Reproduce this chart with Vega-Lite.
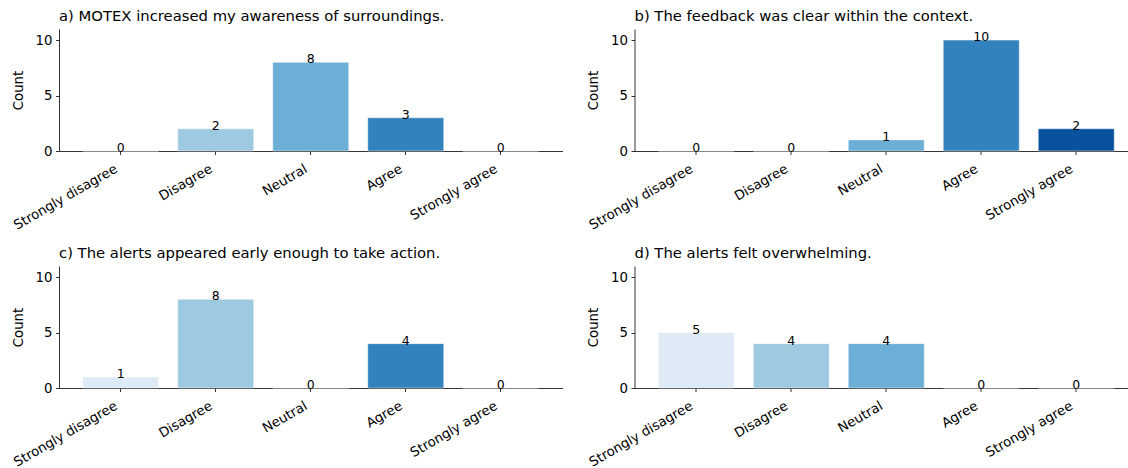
{
  "$schema": "https://vega.github.io/schema/vega-lite/v6.json",
  "background": "white",
  "padding": {"left": 11, "top": 9, "right": 0, "bottom": 0},
  "bounds": "flush",
  "columns": 2,
  "spacing": {"row": 115, "column": 71.5},
  "datasets": {
    "likert": [
      {"panel": "a", "response": "Strongly disagree", "count": 0},
      {"panel": "a", "response": "Disagree", "count": 2},
      {"panel": "a", "response": "Neutral", "count": 8},
      {"panel": "a", "response": "Agree", "count": 3},
      {"panel": "a", "response": "Strongly agree", "count": 0},
      {"panel": "b", "response": "Strongly disagree", "count": 0},
      {"panel": "b", "response": "Disagree", "count": 0},
      {"panel": "b", "response": "Neutral", "count": 1},
      {"panel": "b", "response": "Agree", "count": 10},
      {"panel": "b", "response": "Strongly agree", "count": 2},
      {"panel": "c", "response": "Strongly disagree", "count": 1},
      {"panel": "c", "response": "Disagree", "count": 8},
      {"panel": "c", "response": "Neutral", "count": 0},
      {"panel": "c", "response": "Agree", "count": 4},
      {"panel": "c", "response": "Strongly agree", "count": 0},
      {"panel": "d", "response": "Strongly disagree", "count": 5},
      {"panel": "d", "response": "Disagree", "count": 4},
      {"panel": "d", "response": "Neutral", "count": 4},
      {"panel": "d", "response": "Agree", "count": 0},
      {"panel": "d", "response": "Strongly agree", "count": 0}
    ]
  },
  "data": {"name": "likert"},
  "config": {
    "font": "DejaVu Sans",
    "view": {"stroke": null},
    "axis": {
      "domainColor": "#000",
      "domainWidth": 0.8,
      "tickColor": "#000",
      "tickWidth": 0.8,
      "tickSize": 3.5,
      "grid": false,
      "labelFont": "DejaVu Sans",
      "labelFontSize": 13.3,
      "labelColor": "#000",
      "titleFont": "DejaVu Sans",
      "titleFontSize": 13.3,
      "titleFontWeight": "normal",
      "titleColor": "#000",
      "labelPadding": 3.5
    },
    "axisX": {"labelPadding": 7, "labelOffset": -8},
    "title": {
      "anchor": "start",
      "frame": "group",
      "font": "DejaVu Sans",
      "fontSize": 14.8,
      "fontWeight": "normal",
      "color": "#000",
      "baseline": "alphabetic",
      "offset": 5
    }
  },
  "concat": [
    {
      "title": "a) MOTEX increased my awareness of surroundings.",
      "transform": [{"filter": "datum.panel === 'a'"}],
      "width": 503.5,
      "height": 122,
      "encoding": {
        "x": {"field": "response", "type": "nominal", "sort": null,
              "scale": {"domain": ["Strongly disagree", "Disagree", "Neutral", "Agree", "Strongly agree"], "paddingInner": 0.2, "paddingOuter": 0.25},
              "axis": {"title": null, "labelAngle": -30, "labelAlign": "right", "labelBaseline": "top"}},
        "y": {"field": "count", "type": "quantitative",
              "scale": {"domain": [0, 11], "nice": false},
              "axis": {"title": "Count", "values": [0, 5, 10], "titlePadding": 10}}
      },
      "layer": [
        {"mark": {"type": "bar", "stroke": "white", "strokeWidth": 0.8, "strokeOpacity": 0.6},
         "encoding": {"color": {"field": "response", "type": "nominal", "legend": null,
           "scale": {"domain": ["Strongly disagree", "Disagree", "Neutral", "Agree", "Strongly agree"],
                     "range": ["#deebf7", "#9ecae1", "#6baed6", "#3182bd", "#08519c"]}}}},
        {"mark": {"type": "text", "baseline": "alphabetic", "dy": 1, "fontSize": 12.5, "color": "#000"},
         "encoding": {"text": {"field": "count", "type": "quantitative"}}}
      ]
    },
    {
      "title": "b) The feedback was clear within the context.",
      "transform": [{"filter": "datum.panel === 'b'"}],
      "width": 503.5,
      "height": 122,
      "encoding": {
        "x": {"field": "response", "type": "nominal", "sort": null,
              "scale": {"domain": ["Strongly disagree", "Disagree", "Neutral", "Agree", "Strongly agree"], "paddingInner": 0.2, "paddingOuter": 0.25},
              "axis": {"title": null, "labelAngle": -30, "labelAlign": "right", "labelBaseline": "top"}},
        "y": {"field": "count", "type": "quantitative",
              "scale": {"domain": [0, 11], "nice": false},
              "axis": {"title": "Count", "values": [0, 5, 10], "titlePadding": 10}}
      },
      "layer": [
        {"mark": {"type": "bar", "stroke": "white", "strokeWidth": 0.8, "strokeOpacity": 0.6},
         "encoding": {"color": {"field": "response", "type": "nominal", "legend": null,
           "scale": {"domain": ["Strongly disagree", "Disagree", "Neutral", "Agree", "Strongly agree"],
                     "range": ["#deebf7", "#9ecae1", "#6baed6", "#3182bd", "#08519c"]}}}},
        {"mark": {"type": "text", "baseline": "alphabetic", "dy": 1, "fontSize": 12.5, "color": "#000"},
         "encoding": {"text": {"field": "count", "type": "quantitative"}}}
      ]
    },
    {
      "title": "c) The alerts appeared early enough to take action.",
      "transform": [{"filter": "datum.panel === 'c'"}],
      "width": 503.5,
      "height": 122,
      "encoding": {
        "x": {"field": "response", "type": "nominal", "sort": null,
              "scale": {"domain": ["Strongly disagree", "Disagree", "Neutral", "Agree", "Strongly agree"], "paddingInner": 0.2, "paddingOuter": 0.25},
              "axis": {"title": null, "labelAngle": -30, "labelAlign": "right", "labelBaseline": "top"}},
        "y": {"field": "count", "type": "quantitative",
              "scale": {"domain": [0, 11], "nice": false},
              "axis": {"title": "Count", "values": [0, 5, 10], "titlePadding": 10}}
      },
      "layer": [
        {"mark": {"type": "bar", "stroke": "white", "strokeWidth": 0.8, "strokeOpacity": 0.6},
         "encoding": {"color": {"field": "response", "type": "nominal", "legend": null,
           "scale": {"domain": ["Strongly disagree", "Disagree", "Neutral", "Agree", "Strongly agree"],
                     "range": ["#deebf7", "#9ecae1", "#6baed6", "#3182bd", "#08519c"]}}}},
        {"mark": {"type": "text", "baseline": "alphabetic", "dy": 1, "fontSize": 12.5, "color": "#000"},
         "encoding": {"text": {"field": "count", "type": "quantitative"}}}
      ]
    },
    {
      "title": "d) The alerts felt overwhelming.",
      "transform": [{"filter": "datum.panel === 'd'"}],
      "width": 503.5,
      "height": 122,
      "encoding": {
        "x": {"field": "response", "type": "nominal", "sort": null,
              "scale": {"domain": ["Strongly disagree", "Disagree", "Neutral", "Agree", "Strongly agree"], "paddingInner": 0.2, "paddingOuter": 0.25},
              "axis": {"title": null, "labelAngle": -30, "labelAlign": "right", "labelBaseline": "top"}},
        "y": {"field": "count", "type": "quantitative",
              "scale": {"domain": [0, 11], "nice": false},
              "axis": {"title": "Count", "values": [0, 5, 10], "titlePadding": 10}}
      },
      "layer": [
        {"mark": {"type": "bar", "stroke": "white", "strokeWidth": 0.8, "strokeOpacity": 0.6},
         "encoding": {"color": {"field": "response", "type": "nominal", "legend": null,
           "scale": {"domain": ["Strongly disagree", "Disagree", "Neutral", "Agree", "Strongly agree"],
                     "range": ["#deebf7", "#9ecae1", "#6baed6", "#3182bd", "#08519c"]}}}},
        {"mark": {"type": "text", "baseline": "alphabetic", "dy": 1, "fontSize": 12.5, "color": "#000"},
         "encoding": {"text": {"field": "count", "type": "quantitative"}}}
      ]
    }
  ]
}
